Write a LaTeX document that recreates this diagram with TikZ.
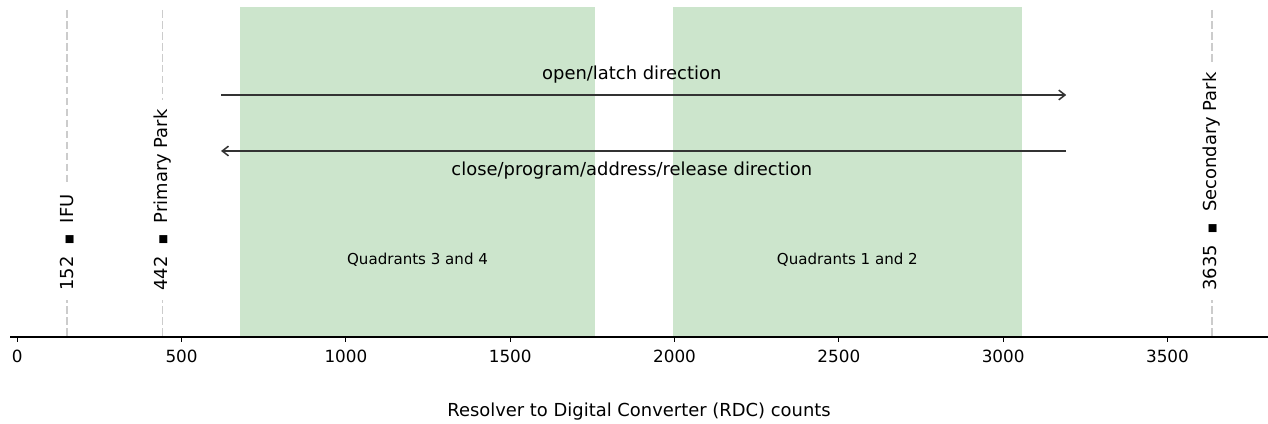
\documentclass[tikz,border=0pt]{standalone}
\usepackage{fontspec}
\setmainfont{DejaVu Sans}
\usepackage{xcolor}
\usetikzlibrary{arrows.meta}
\definecolor{quadgreen}{RGB}{204,229,204}
\definecolor{parkgray}{RGB}{204,204,204}
\definecolor{arrowgray}{RGB}{51,51,51}
\newcommand{\marksq}{\raisebox{1pt}{\fontsize{7.5}{8}\selectfont ■}}
\tikzset{
  every node/.style={font=\fontsize{12.9}{15}\selectfont},
  parkline/.style={parkgray,line width=1.2pt,dash pattern=on 5.5pt off 2.4pt},
  parklabel/.style={rotate=90,anchor=west,fill=white,inner xsep=6.5pt,inner ysep=2pt},
  dirarrow/.style={arrowgray,line width=1.1pt,-{Straight Barb[length=4.5pt,width=7pt]}},
  quadlabel/.style={font=\fontsize{10.85}{13}\selectfont},
  ticklabel/.style={font=\fontsize{12.1}{14}\selectfont}
}
\begin{document}
\begin{tikzpicture}[line cap=butt,x=0.2366pt,y=0.72pt]
	\useasboundingbox (-52.6,0) rectangle (3806,423);
	% Quadranten
	\fill[quadgreen] (678,86) rectangle (1758,416);
	\fill[quadgreen] (1995,86) rectangle (3057,416);
	\node[quadlabel] (q34) at (1218,163) {Quadrants 3 and 4};
	\node[quadlabel] (q12) at (2526,163) {Quadrants 1 and 2};
	% Parkpositionen
	\foreach \v/\n/\t in {152/ifu/IFU,442/ppark/Primary Park,3635/spark/Secondary Park}{
		\draw[parkline] (\v,413) -- (\v,86);
		\node[parklabel] (\n) at (\v,123) {\v\hspace{8.5pt}\marksq\hspace{8.5pt}\t};
	}
	% Richtungen
	\coordinate (openL) at (620,328);
	\coordinate (openR) at (3192,328);
	\coordinate (closeR) at (3192,272);
	\coordinate (closeL) at (620,272);
	\draw[dirarrow] (openL) -- (openR);
	\draw[dirarrow] (closeR) -- (closeL);
	\node (open) at (1870,348) {open/latch direction};
	\node (close) at (1870,252) {close/program/address/release direction};
	% Achse
	\coordinate (axL) at (-22,86);
	\coordinate (axR) at (3806,86);
	\draw[line width=0.8pt] (axL) -- (axR);
	\foreach \x in {0,500,...,3500}
		\draw[line width=0.8pt] (\x,86) -- ++(0,-4.9) node[ticklabel,below,inner sep=0pt,yshift=-5.5pt] (t\x) {\x};
	\node (xlabel) at (1892,11) {Resolver to Digital Converter (RDC) counts};
\end{tikzpicture}
\end{document}
